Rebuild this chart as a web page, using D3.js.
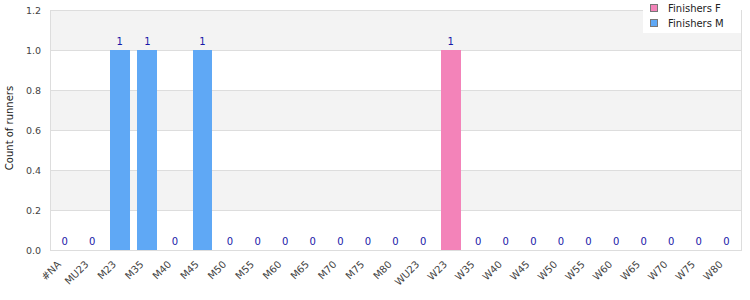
<!DOCTYPE html>
<html><head><meta charset="utf-8">
<script src="https://cdn.jsdelivr.net/npm/d3@7"></script>
<style>body{margin:0;background:#fff}svg{display:block;font-family:"DejaVu Sans",sans-serif}</style>
</head><body><svg id="c" width="750" height="300"></svg>
<script>
const categories = ["#NA","MU23","M23","M35","M40","M45","M50","M55","M60","M65","M70","M75","M80","WU23","W23","W35","W40","W45","W50","W55","W60","W65","W70","W75","W80"];
const finishersF = [0,0,0,0,0,0,0,0,0,0,0,0,0,0,1,0,0,0,0,0,0,0,0,0,0];
const finishersM = [0,0,1,1,0,1,0,0,0,0,0,0,0,0,0,0,0,0,0,0,0,0,0,0,0];
const yTicks = [0,0.2,0.4,0.6,0.8,1.0,1.2];
const seriesNames = ["Finishers F","Finishers M"];
const colors = ["#f383b9","#5fa8f5"];

const svg = d3.select("#c");
const m = {l:50, r:9, t:10, b:50};
const W = 750, H = 300;
const x = d3.scaleBand().domain(categories).range([m.l, W-m.r]).paddingInner(0.28).paddingOuter(0.17);
const y = d3.scaleLinear().domain([0,1.2]).range([H-m.b, m.t]);

for (let i=0;i<yTicks.length-1;i++){
  svg.append("rect").attr("x",m.l).attr("width",W-m.r-m.l)
    .attr("y",y(yTicks[i+1])).attr("height",y(yTicks[i])-y(yTicks[i+1]))
    .attr("fill", i%2===1 ? "#f3f3f3" : "#ffffff");
}
svg.append("g").selectAll("line").data(yTicks).join("line")
  .attr("x1",m.l).attr("x2",W-m.r).attr("y1",d=>y(d)).attr("y2",d=>y(d))
  .attr("stroke","#dddddd").attr("stroke-width",1).attr("shape-rendering","crispEdges");
svg.append("rect").attr("x",m.l).attr("y",m.t).attr("width",W-m.r-m.l).attr("height",H-m.b-m.t)
  .attr("fill","none").attr("stroke","#dddddd").attr("shape-rendering","crispEdges");

const series = [finishersF, finishersM];
series.forEach((vals,si)=>{
  svg.append("g").selectAll("rect").data(categories).join("rect")
    .attr("x",d=>x(d)).attr("width",x.bandwidth())
    .attr("y",(d,i)=>y(vals[i])).attr("height",(d,i)=>y(0)-y(vals[i]))
    .attr("fill",colors[si]).attr("shape-rendering","crispEdges");
});
svg.append("g").selectAll("text").data(categories).join("text")
  .attr("x",d=>x(d)+x.bandwidth()/2)
  .attr("y",(d,i)=>{const v=finishersF[i]+finishersM[i]; return v>0 ? y(v)-5 : y(0)-5;})
  .attr("text-anchor","middle").attr("font-size",10).attr("fill","#1818a8")
  .text((d,i)=>finishersF[i]+finishersM[i]);

svg.append("g").selectAll("text").data(yTicks).join("text")
  .attr("x",m.l-9).attr("y",d=>y(d)+3.5).attr("text-anchor","end")
  .attr("font-size",9.5).attr("fill","#444").text(d=>d.toFixed(1));
svg.append("text").attr("transform",`translate(13,128) rotate(-90)`)
  .attr("text-anchor","middle").attr("font-size",10).attr("fill","#222").text("Count of runners");

svg.append("g").selectAll("text").data(categories).join("text")
  .attr("transform",d=>`translate(${x(d)+x.bandwidth()/2-3},${H-m.b+15}) rotate(-45)`)
  .attr("text-anchor","end").attr("font-size",10).attr("fill","#444").text(d=>d);

const lg = svg.append("g");
lg.append("rect").attr("x",643).attr("y",0).attr("width",98).attr("height",33).attr("fill","#fff");
seriesNames.forEach((n,i)=>{
  lg.append("rect").attr("x",650.5).attr("y",4.5+i*15).attr("width",7).attr("height",7)
    .attr("fill",colors[i]).attr("stroke","#777");
  lg.append("text").attr("x",668).attr("y",12+i*14.5).attr("font-size",10).attr("fill","#222").text(n);
});
</script></body></html>
